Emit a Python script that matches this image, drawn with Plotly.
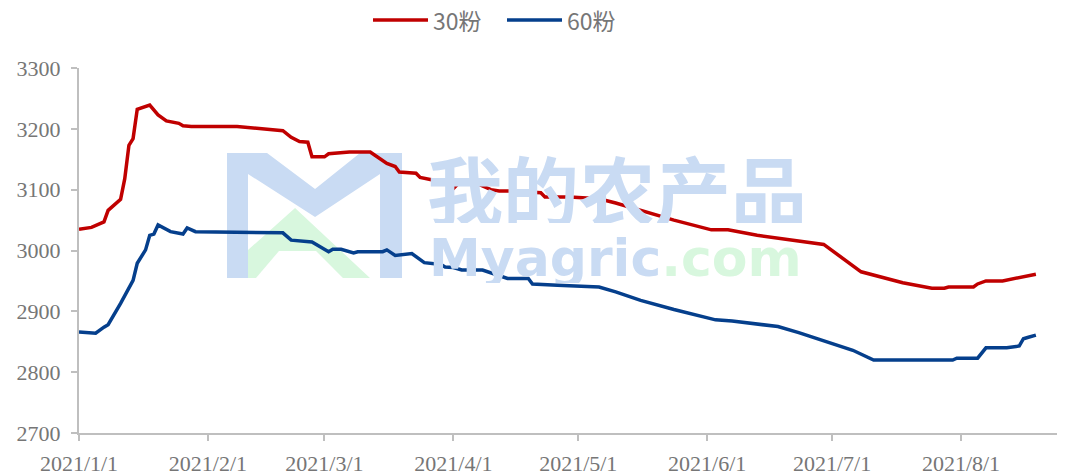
import plotly.graph_objects as go

# --- data ----------------------------------------------------------------
dates_30 = [
    "2021-01-01", "2021-01-04", "2021-01-07", "2021-01-08", "2021-01-11",
    "2021-01-12", "2021-01-13", "2021-01-14", "2021-01-15", "2021-01-18",
    "2021-01-20", "2021-01-22", "2021-01-25", "2021-01-26", "2021-01-28",
    "2021-02-08", "2021-02-19", "2021-02-21", "2021-02-23", "2021-02-25",
    "2021-02-26", "2021-03-01", "2021-03-02", "2021-03-07", "2021-03-12",
    "2021-03-16", "2021-03-18", "2021-03-19", "2021-03-23", "2021-03-24",
    "2021-03-27", "2021-03-31", "2021-04-01", "2021-04-02", "2021-04-07",
    "2021-04-10", "2021-04-12", "2021-04-15", "2021-04-22", "2021-04-23",
    "2021-04-29", "2021-05-06", "2021-05-10", "2021-05-16", "2021-05-24",
    "2021-06-02", "2021-06-06", "2021-06-13", "2021-06-21", "2021-06-29",
    "2021-07-08", "2021-07-18", "2021-07-25", "2021-07-28", "2021-07-29",
    "2021-08-04", "2021-08-05", "2021-08-07", "2021-08-11", "2021-08-15",
    "2021-08-19",
]
price_30 = [
    3035, 3038, 3047, 3066, 3084,
    3118, 3173, 3184, 3232, 3239,
    3223, 3213, 3209, 3205, 3204,
    3204, 3197, 3186, 3179, 3178,
    3154, 3154, 3159, 3162, 3162,
    3143, 3138, 3129, 3127, 3120,
    3116, 3113, 3102, 3109, 3109,
    3100, 3098, 3098, 3095, 3088,
    3088, 3085, 3078, 3066, 3050,
    3034, 3034, 3025, 3017, 3010,
    2965, 2947, 2938, 2938, 2940,
    2940, 2945, 2950, 2950, 2956,
    2961,
]

dates_60 = [
    "2021-01-01", "2021-01-05", "2021-01-07", "2021-01-08", "2021-01-11",
    "2021-01-13", "2021-01-14", "2021-01-15", "2021-01-17", "2021-01-18",
    "2021-01-19", "2021-01-20", "2021-01-23", "2021-01-26", "2021-01-27",
    "2021-01-29", "2021-02-19", "2021-02-21", "2021-02-26", "2021-03-02",
    "2021-03-03", "2021-03-05", "2021-03-08", "2021-03-09", "2021-03-15",
    "2021-03-16", "2021-03-18", "2021-03-22", "2021-03-25", "2021-03-29",
    "2021-03-30", "2021-04-01", "2021-04-03", "2021-04-08", "2021-04-14",
    "2021-04-19", "2021-04-20", "2021-04-26", "2021-05-06", "2021-05-10",
    "2021-05-16", "2021-05-24", "2021-06-03", "2021-06-07", "2021-06-18",
    "2021-06-23", "2021-06-30", "2021-07-06", "2021-07-11", "2021-07-30",
    "2021-07-31", "2021-08-05", "2021-08-07", "2021-08-12", "2021-08-15",
    "2021-08-16", "2021-08-17", "2021-08-19",
]
price_60 = [
    2866, 2864, 2874, 2878, 2913,
    2940, 2951, 2979, 3001, 3025,
    3027, 3042, 3031, 3027, 3037,
    3031, 3029, 3017, 3014, 2998,
    3002, 3002, 2996, 2998, 2998,
    3001, 2992, 2995, 2980, 2977,
    2973, 2972, 2968, 2968, 2954,
    2954, 2945, 2943, 2940, 2932,
    2918, 2903, 2886, 2884, 2875,
    2865, 2850, 2836, 2820, 2820,
    2823, 2823, 2840, 2840, 2843,
    2855, 2857, 2861,
]

tick_dates = ["2021-01-01", "2021-02-01", "2021-03-01", "2021-04-01",
              "2021-05-01", "2021-06-01", "2021-07-01", "2021-08-01"]
tick_labels = ["2021/1/1", "2021/2/1", "2021/3/1", "2021/4/1",
               "2021/5/1", "2021/6/1", "2021/7/1", "2021/8/1"]

series_names = ["30粉", "60粉"]

RED = "#C00000"
BLUE = "#053F8C"
GREY = "#767676"
AXIS = "#BFBFBF"

# The page body keeps its default 8px margin, so the figure is made 8px
# smaller and everything below is placed in window pixels minus that offset.
OFF = 8
W, H = 1065 - OFF, 476 - OFF
L, R, T, B = 79 - OFF, 0, 68 - OFF, 43
PW, PH = W - L - R, H - T - B


def px(x, y):
    """window pixel -> paper coords"""
    return (x - OFF - L) / PW, (H - B - (y - OFF)) / PH


def poly(points):
    pts = [px(x, y) for x, y in points]
    return "M " + " L ".join(f"{a:.4f},{b:.4f}" for a, b in pts) + " Z"


fig = go.Figure()
fig.add_trace(go.Scatter(x=dates_30, y=price_30, name=series_names[0], mode="lines",
                         line=dict(color=RED, width=3.5)))
fig.add_trace(go.Scatter(x=dates_60, y=price_60, name=series_names[1], mode="lines",
                         line=dict(color=BLUE, width=3.5)))

# faint "Myagric" watermark behind the lines
wm_blue = "#C9DBF3"
wm_green = "#D8F7DE"
shapes = [
    dict(type="path", xref="paper", yref="paper", layer="below",
         fillcolor=wm_green, line=dict(width=0),
         path=poly([(295, 208), (370, 278), (248, 278), (248, 250)])),
    dict(type="path", xref="paper", yref="paper", layer="below",
         fillcolor="white", line=dict(width=0),
         path=poly([(279, 251), (316, 251), (343, 278), (256, 278)])),
    dict(type="path", xref="paper", yref="paper", layer="below",
         fillcolor=wm_blue, line=dict(width=0),
         path=poly([(227, 153), (267, 153), (315, 189), (360, 153), (402, 153),
                    (402, 278), (380, 278), (380, 174), (315, 217), (248, 174),
                    (248, 278), (227, 278)])),
]
ax1, ay1 = px(617, 188)
ax2, ay2 = px(427, 258)
annotations = [
    dict(xref="paper", yref="paper", x=ax1, y=ay1, xanchor="center", yanchor="middle",
         text="我的农产品", showarrow=False, height=70,
         font=dict(family="Noto Sans CJK SC", size=76, color=wm_blue, weight="bold")),
    dict(xref="paper", yref="paper", x=ax2, y=ay2, xanchor="left", yanchor="middle",
         text=f"Myagric<span style='color:{wm_green}'>.com</span>", showarrow=False,
         height=50,
         font=dict(family="DejaVu Sans", size=52, color=wm_blue, weight="bold")),
]

# legend drawn by hand so the line samples match the reference length
legend_items = [(373, 428, RED, series_names[0]), (507, 562, BLUE, series_names[1])]
for x0, x1, col, label in legend_items:
    (p0, py), (p1, _) = px(x0, 20), px(x1, 20)
    shapes.append(dict(type="line", xref="paper", yref="paper", x0=p0, x1=p1,
                       y0=py, y1=py, line=dict(color=col, width=3.5)))
    annotations.append(dict(xref="paper", yref="paper", x=px(x1 + 3, 0)[0], y=py,
                            xanchor="left", yanchor="middle", text=label,
                            showarrow=False, height=24,
                            font=dict(family="Noto Sans CJK SC", size=23, color=GREY)))

fig.update_layout(
    width=W, height=H,
    margin=dict(l=L, r=R, t=T, b=B),
    paper_bgcolor="white", plot_bgcolor="white",
    showlegend=False,
    shapes=shapes,
    annotations=annotations,
    xaxis=dict(range=["2021-01-01", "2021-08-26"], tickvals=tick_dates,
               ticktext=tick_labels, showgrid=False, zeroline=False,
               showline=True, linecolor=AXIS, linewidth=2, automargin=False,
               ticks="outside", ticklen=6, tickcolor=AXIS, tickwidth=1.5,
               ticklabelstandoff=4,
               tickfont=dict(family="Liberation Serif", size=22, color=GREY)),
    yaxis=dict(range=[2700, 3300], dtick=100, showgrid=False, zeroline=False,
               showline=True, linecolor=AXIS, linewidth=2, automargin=False,
               ticks="outside", ticklen=6, tickcolor=AXIS, tickwidth=1.5,
               ticklabelstandoff=6,
               tickfont=dict(family="Liberation Serif", size=22, color=GREY)),
)

fig.write_html("out.html")
